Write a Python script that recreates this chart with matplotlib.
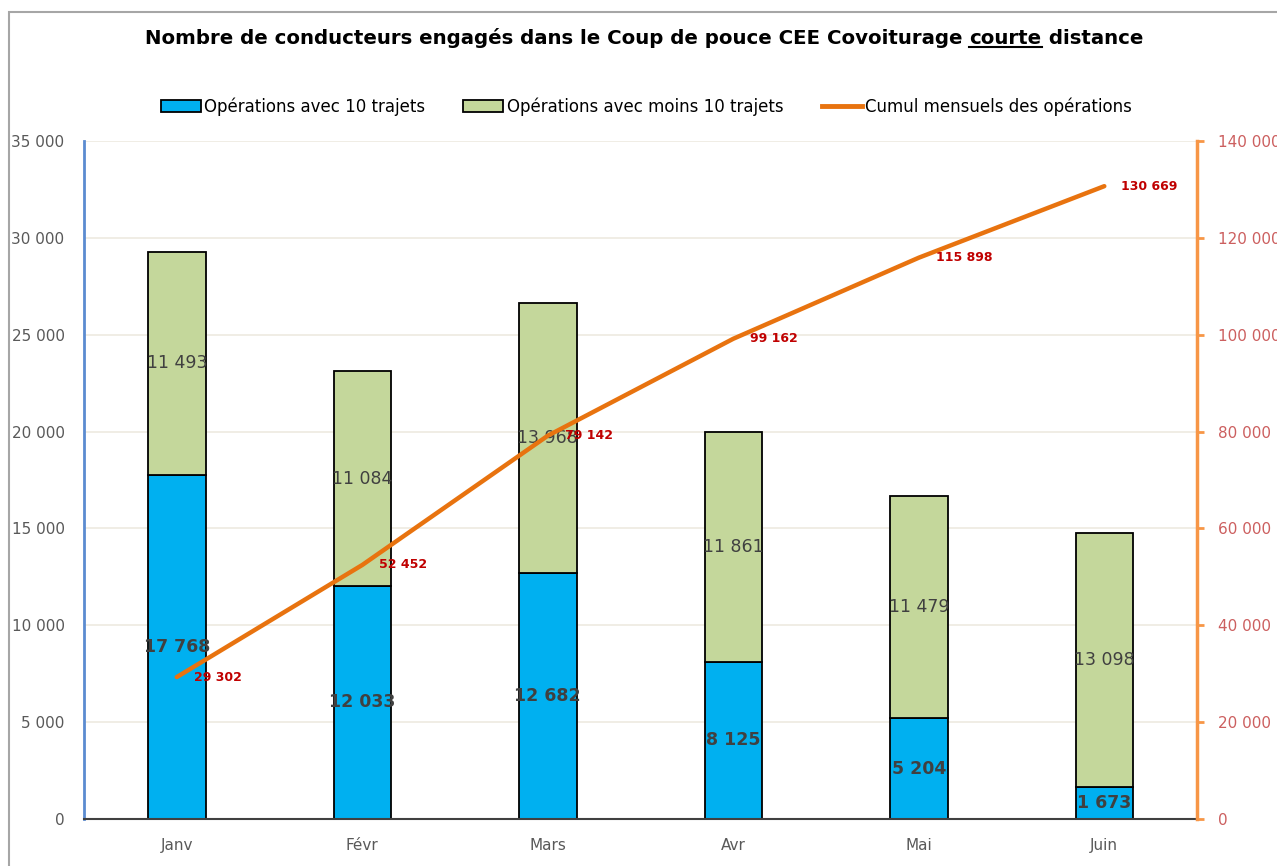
import numpy as np
import matplotlib
matplotlib.use("Agg")
from matplotlib import pyplot as plt
from matplotlib import font_manager
from matplotlib.patches import Patch, Rectangle
from matplotlib.lines import Line2D

months = ["Janv", "Févr", "Mars", "Avr", "Mai", "Juin"]
ops_10 = [17768, 12033, 12682, 8125, 5204, 1673]
ops_less10 = [11493, 11084, 13968, 11861, 11479, 13098]
cumul = [29302, 52452, 79142, 99162, 115898, 130669]
title_parts = ["Nombre de conducteurs engagés dans le Coup de pouce CEE Covoiturage ",
               "courte", " distance"]


def fmt(v):
    return f"{int(v):,}".replace(",", " ")


plt.rcParams['font.family'] = ['DejaVu Sans']
names = {f.name for f in font_manager.fontManager.ttflist}
title_font = "Liberation Sans Narrow" if "Liberation Sans Narrow" in names else "DejaVu Sans"

fig = plt.figure(figsize=(12.77, 8.66), dpi=100)
ax = fig.add_axes([0.0658, 0.0543, 0.8716, 0.7829])
ax2 = ax.twinx()

x = np.arange(len(months))
w = 0.31
blue = "#00B0F0"
green = "#C4D79B"
orange = "#E8730F"

ax.bar(x, ops_10, w, color=blue, edgecolor="black", linewidth=1.3, zorder=2)
ax.bar(x, ops_less10, w, bottom=ops_10, color=green, edgecolor="black", linewidth=1.3, zorder=2)

for i in range(len(months)):
    ax.text(x[i], ops_10[i] / 2, fmt(ops_10[i]), ha="center", va="center",
            fontsize=12.5, fontweight="bold", color="#404040", zorder=3)
    ax.text(x[i], ops_10[i] + ops_less10[i] / 2, fmt(ops_less10[i]), ha="center",
            va="center", fontsize=12.5, color="#404040", zorder=3)

ax.set_xlim(-0.5, len(months) - 0.5)
ax.set_ylim(0, 35000)
ax.set_yticks(range(0, 35001, 5000))
ax.set_yticklabels([fmt(v) for v in range(0, 35001, 5000)])
ax.set_xticks(x)
ax.set_xticklabels(months)
ax.tick_params(axis="y", length=0, labelsize=11, labelcolor="#595959", pad=14)
ax.tick_params(axis="x", length=0, labelsize=11, labelcolor="#595959", pad=14)
ax.grid(axis="y", color="#EDEAE0", linewidth=1.2, zorder=0)
ax.set_axisbelow(True)

ax2.plot(x, cumul, color=orange, linewidth=3.2, zorder=4, solid_capstyle="round")
for i in range(len(months)):
    ax2.annotate(fmt(cumul[i]), (x[i], cumul[i]), xytext=(17, 0),
                 textcoords="offset pixels", ha="left", va="center", fontsize=9,
                 fontweight="bold", color="#C00000", zorder=5)
ax2.set_ylim(0, 140000)
ax2.set_yticks(range(0, 140001, 20000))
ax2.set_yticklabels([fmt(v) for v in range(0, 140001, 20000)])
ax2.tick_params(axis="y", length=5, width=2, color="#F79646", labelsize=11,
                labelcolor="#CC5F5F", pad=10)

for a in (ax, ax2):
    a.spines["top"].set_visible(False)
ax.spines["left"].set_color("#5B8BD0")
ax.spines["left"].set_linewidth(2)
ax.spines["right"].set_visible(False)
ax2.spines["left"].set_visible(False)
ax2.spines["bottom"].set_visible(False)
ax2.spines["right"].set_color("#F79646")
ax2.spines["right"].set_linewidth(2.5)
ax.spines["bottom"].set_color("#404040")
ax.spines["bottom"].set_linewidth(1.5)

# title in three pieces so "courte" can be underlined
fig.canvas.draw()
renderer = fig.canvas.get_renderer()
fs = 16
probe = [fig.text(0, 0, p, fontsize=fs, fontweight="bold", family=title_font)
         for p in title_parts]
total = sum(t.get_window_extent(renderer).width for t in probe)
for t in probe:
    t.remove()
fs = fs * 1000 / total
x0 = 145
ty = 0.956
for k, p in enumerate(title_parts):
    t = fig.text(x0 / fig.bbox.width, ty, p, ha="left", va="center", fontsize=fs,
                 fontweight="bold", family=title_font)
    bb = t.get_window_extent(renderer)
    if k == 1:
        fig.add_artist(Line2D([bb.x0 / fig.bbox.width, bb.x1 / fig.bbox.width],
                              [(bb.y0 + 1) / fig.bbox.height] * 2, color="black",
                              linewidth=1.5))
    x0 = bb.x1

handles = [Patch(facecolor=blue, edgecolor="black", linewidth=1.3),
           Patch(facecolor=green, edgecolor="black", linewidth=1.3),
           Line2D([0], [0], color=orange, linewidth=3.5)]
labels = ["Opérations avec 10 trajets", "Opérations avec moins 10 trajets",
          "Cumul mensuels des opérations"]
fig.legend(handles, labels, loc="center", bbox_to_anchor=(0.506, 0.877), ncol=3,
           frameon=False, fontsize=12, handlelength=2.4, handleheight=0.8,
           handletextpad=0.2, columnspacing=2.3)

fig.add_artist(Rectangle((0.007, -0.1), 1.2, 1.086, transform=fig.transFigure,
                         fill=False, edgecolor="#A6A6A6", linewidth=1.5))

fig.savefig("out.png", dpi=100)
